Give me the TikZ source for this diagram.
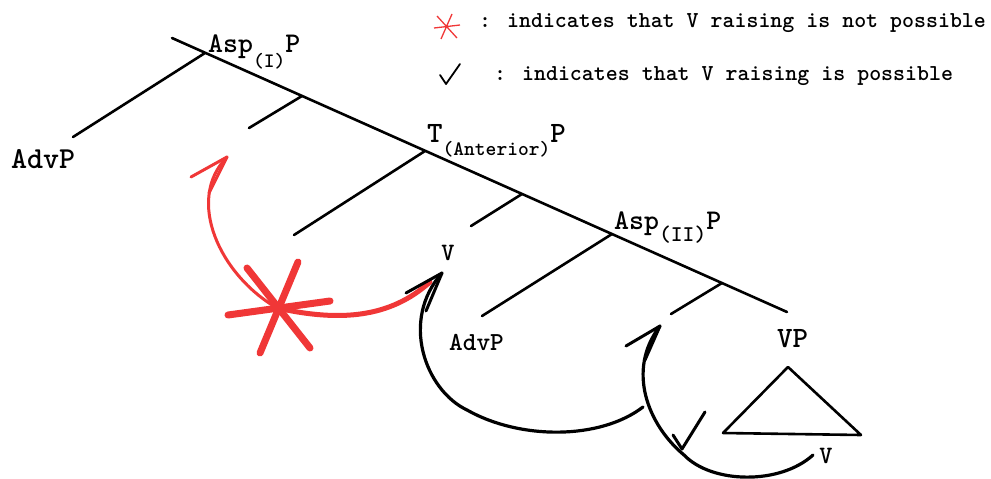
\documentclass[tikz,border=0pt]{standalone}
\usepackage{fontspec}
\definecolor{starred}{RGB}{240,55,55}
\newcommand\myfs[1]{\fontsize{#1}{#1}\selectfont}
\newcommand\subpart[3]{\raisebox{-#1pt}{\myfs{#2}#3}}
\begin{document}
\begin{tikzpicture}[x=1pt,y=-1pt,
  tree/.style={line width=2.6pt,line cap=round},
  lbl/.style={font=\ttfamily\bfseries,inner sep=0pt,anchor=base west},
  legendtext/.style={font=\ttfamily\bfseries\myfs{22.8},inner sep=0pt,anchor=west},
  redbrush/.style={draw=starred,line width=#1,line cap=round,line join=round},
  blackbrush/.style={draw=black,line width=#1,line cap=round,line join=round},
]
\useasboundingbox (0,0) rectangle (991,479);

% tree skeleton
\coordinate (top) at (172,38);
\coordinate (spend) at (787,312);
\coordinate (j1) at (205,53);
\coordinate (j2) at (302,96);
\coordinate (j3) at (425,151);
\coordinate (j4) at (522,194);
\coordinate (j5) at (612,234);
\coordinate (j6) at (722,283);
\coordinate (b1) at (73,137);
\coordinate (b2) at (249,128);
\coordinate (b3) at (294,235);
\coordinate (b4) at (471,226);
\coordinate (b5) at (482,316);
\coordinate (b6) at (671,314);
\draw[tree] (top) -- (spend);
\foreach \i in {1,...,6} \draw[tree] (j\i) -- (b\i);

% triangle
\coordinate (tA) at (788,367);
\coordinate (tL) at (723,433);
\coordinate (tR) at (861,435);
\draw[tree,line join=round] (tA) -- (tL) -- (tR) -- cycle;

% labels
\node[lbl] (aspI) at (208,52) {\myfs{28.5}Asp\subpart{15}{20.5}{(I)}P};
\node[lbl] (tant) at (427,142) {\myfs{29.5}T\subpart{13}{20.5}{(Anterior)}P};
\node[lbl] (aspII) at (614,229) {\myfs{28.5}Asp\subpart{12}{22.5}{(II)}P};
\node[lbl] (advp1) at (11,168) {\myfs{30.5}AdvP};
\node[lbl] (advp2) at (449,350) {\myfs{26}AdvP};
\node[lbl] (vp) at (777,347) {\myfs{29.5}VP};
\node[lbl,anchor=base] (v1) at (448,260) {\myfs{25}V};
\node[lbl,anchor=base] (v2) at (826,463) {\myfs{25}V};

% red star and red arrows
\coordinate (starc) at (277,308);
\coordinate (rt) at (227,157);
\coordinate (rend) at (430,282);
\draw[redbrush=3pt] (starc) .. controls (220,275) and (185,200) .. (rt);
\draw[redbrush=3pt] (191,177) -- (rt) -- (209,193);
\draw[redbrush=5pt] (starc) .. controls (340,322) and (390,318) .. (rend);
\draw[redbrush=7pt] (228,315) -- (330,301);
\draw[redbrush=7pt] (260,353) -- (298,262);
\draw[redbrush=7pt] (247,268) -- (310,348);

% black arrows
\coordinate (a1s) at (643,407);
\coordinate (a1m) at (467,410);
\coordinate (a1t) at (442,273);
\draw[blackbrush=3.2pt] (a1s) .. controls (600,440) and (520,440) .. (a1m) .. controls (425,390) and (400,320) .. (a1t);
\draw[blackbrush=3pt] (406,293) -- (a1t) -- (426,311);
\coordinate (a2s) at (813,455);
\coordinate (a2m) at (684,455);
\coordinate (a2t) at (660,326);
\draw[blackbrush=3.2pt] (a2s) .. controls (780,485) and (712,484) .. (a2m) .. controls (648,425) and (626,370) .. (a2t);
\draw[blackbrush=3pt] (626,346) -- (a2t) -- (645,360);
\draw[blackbrush=3pt] (673,435) -- (682,449) -- (705,412);

% legend
\draw[draw=starred,line width=1.3pt] (434,28) -- (460,25) (441,39) -- (452,14) (437,16) -- (457,38);
\draw[line width=1.8pt,line join=round,line cap=round] (440,75) -- (446,84) -- (460,64);
\node[legendtext] (leg1) at (479,23) {: indicates that V raising is not possible};
\node[legendtext] (leg2) at (494,76) {: indicates that V raising is possible};
\end{tikzpicture}
\end{document}
